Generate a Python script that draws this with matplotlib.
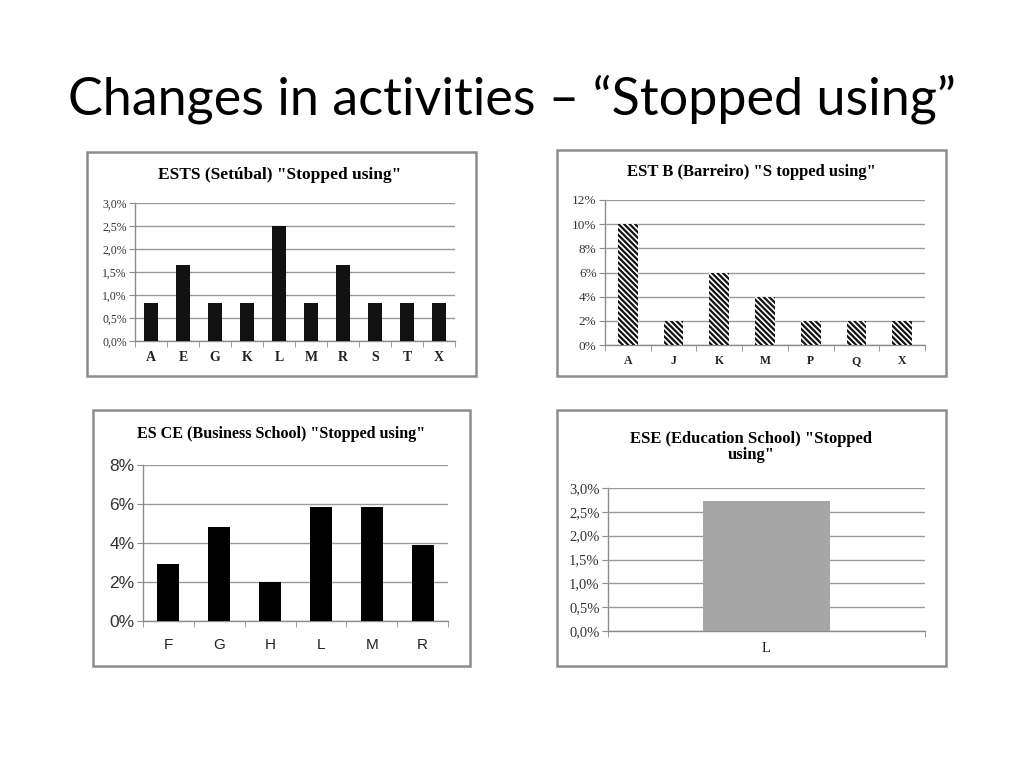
import matplotlib
matplotlib.use('Agg')
from matplotlib import pyplot as plt
from matplotlib.patches import Rectangle
from matplotlib.ticker import FuncFormatter, FixedLocator
import numpy as np

# data
ests_cats = ['A', 'E', 'G', 'K', 'L', 'M', 'R', 'S', 'T', 'X']
ests_vals = [0.83, 1.65, 0.83, 0.83, 2.5, 0.83, 1.65, 0.83, 0.83, 0.83]

estb_cats = ['A', 'J', 'K', 'M', 'P', 'Q', 'X']
estb_vals = [10, 2, 6, 4, 2, 2, 2]

esce_cats = ['F', 'G', 'H', 'L', 'M', 'R']
esce_vals = [2.9, 4.8, 2.0, 5.85, 5.85, 3.9]

ese_cats = ['L']
ese_vals = [2.73]

SERIF = 'Liberation Serif'
SANS = 'Liberation Sans'
plt.rcParams['hatch.linewidth'] = 1.6


def comma_pct(decimals):
    def f(v, pos):
        s = ('%.' + str(decimals) + 'f') % v
        return s.replace('.', ',') + '%'
    return FuncFormatter(f)


def draw_box(fig, x0, y0, x1, y1):
    # box in pixel coords (top-left origin)
    fig.patches.append(Rectangle((x0 / 1024, 1 - y1 / 768), (x1 - x0) / 1024, (y1 - y0) / 768,
                                 transform=fig.transFigure, fill=False,
                                 edgecolor='#8c8c8c', linewidth=1.8))


def panel(fig, rect, cats, vals, ymax, step, decimals, bar_kw, width,
          tick_font, tick_size, xlab_size, xlab_weight, xpad=8):
    x0, y0, x1, y1 = rect
    ax = fig.add_axes([x0 / 1024, 1 - y1 / 768, (x1 - x0) / 1024, (y1 - y0) / 768])
    xs = np.arange(len(cats))
    ax.bar(xs, vals, width=width, zorder=3, **bar_kw)
    ax.set_xlim(-0.5, len(cats) - 0.5)
    ax.set_ylim(0, ymax)
    ax.set_yticks(np.arange(0, ymax + step / 2, step))
    ax.yaxis.set_major_formatter(comma_pct(decimals))
    ax.yaxis.grid(True, color='#9a9a9a', linewidth=1.0, zorder=0)
    for s in ['top', 'right']:
        ax.spines[s].set_visible(False)
    for s in ['left', 'bottom']:
        ax.spines[s].set_color('#8c8c8c')
        ax.spines[s].set_linewidth(1.0)
    ax.set_xticks(xs)
    ax.set_xticklabels(cats)
    ax.xaxis.set_minor_locator(FixedLocator(np.arange(-0.5, len(cats), 1.0)))
    ax.tick_params(axis='x', which='major', length=0, pad=xpad)
    ax.tick_params(axis='x', which='minor', length=4, color='#8c8c8c')
    ax.tick_params(axis='y', length=4, color='#8c8c8c', pad=2)
    for t in ax.get_yticklabels():
        t.set_family(tick_font)
        t.set_fontsize(tick_size)
        t.set_color('#333333')
    for t in ax.get_xticklabels():
        t.set_family(tick_font)
        t.set_fontsize(xlab_size)
        t.set_fontweight(xlab_weight)
        t.set_color('#222222')
    return ax


fig = plt.figure(figsize=(10.24, 7.68), dpi=100)
fig.patch.set_facecolor('white')

fig.text(0.5, 1 - 99 / 768, 'Changes in activities \u2013 \u201cStopped using\u201d',
         ha='center', va='center', fontsize=37.5, family='Lato', color='black')

# panel 1 - ESTS
draw_box(fig, 87, 152, 476, 376)
panel(fig, (135, 203, 455, 341), ests_cats, ests_vals, 3.0, 0.5, 1,
      dict(color='#111111'), 0.43, SERIF, 8.5, 10, 'bold', xpad=7)
fig.text((87 + 476) / 2 / 1024 - 0.002, 1 - 175 / 768, 'ESTS (Setúbal) "Stopped using"',
         ha='center', va='center', fontsize=12.5, fontweight='bold', family=SERIF)

# panel 2 - ESTB
draw_box(fig, 557, 150, 946, 376)
panel(fig, (605, 200, 925, 345), estb_cats, estb_vals, 12, 2, 0,
      dict(color='white', edgecolor='#111111', hatch='\\\\\\\\\\\\', linewidth=0), 0.43,
      SERIF, 9.5, 8.5, 'bold', xpad=7)
fig.text((557 + 946) / 2 / 1024, 1 - 172 / 768, 'EST B (Barreiro) "S topped using"',
         ha='center', va='center', fontsize=12, fontweight='bold', family=SERIF)

# panel 3 - ESCE
draw_box(fig, 93, 410, 470, 666)
panel(fig, (143, 465, 448, 621), esce_cats, esce_vals, 8, 2, 0,
      dict(color='black'), 0.43, SANS, 12.5, 11, 'normal', xpad=12)
fig.text((93 + 470) / 2 / 1024, 1 - 434 / 768, 'ES CE (Business School) "Stopped using"',
         ha='center', va='center', fontsize=11.6, fontweight='bold', family=SERIF)

# panel 4 - ESE
draw_box(fig, 557, 410, 946, 666)
panel(fig, (608, 488, 925, 631), ese_cats, ese_vals, 3.0, 0.5, 1,
      dict(color='#a6a6a6'), 0.4, SERIF, 10.5, 10.5, 'normal', xpad=8)
fig.text((557 + 946) / 2 / 1024, 1 - 447 / 768, 'ESE (Education School) "Stopped\nusing"',
         ha='center', va='center', fontsize=12, fontweight='bold', family=SERIF,
         linespacing=1.05)

fig.savefig('out.png', dpi=100)
